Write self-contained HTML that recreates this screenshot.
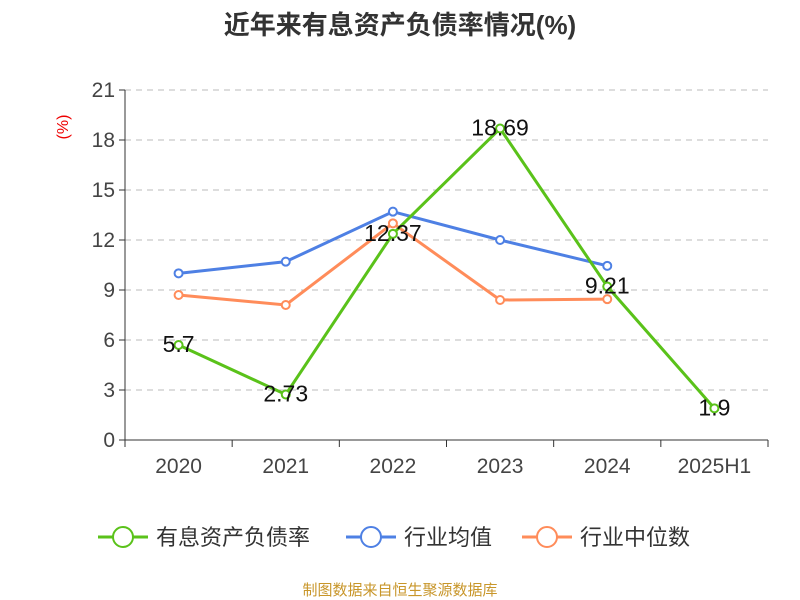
<!DOCTYPE html>
<html><head><meta charset="utf-8"><style>
body{margin:0;background:#fff;}
svg{display:block;font-family:"Liberation Sans","Noto Sans CJK SC",sans-serif;}
</style></head><body>
<svg id="c" width="800" height="600">
<text x="400" y="34" text-anchor="middle" font-size="26" font-weight="bold" fill="#333">近年来有息资产负债率情况(%)</text>
<text x="68" y="127" transform="rotate(-90 68 127)" text-anchor="middle" font-size="16" fill="#e00">(%)</text>
<g id="grid"></g><g id="axes"></g><g id="series"></g>
<g id="legend"></g>
<text x="400" y="595" text-anchor="middle" font-size="15" fill="#c8962a">制图数据来自恒生聚源数据库</text>
</svg>
<script>
const categories=["2020","2021","2022","2023","2024","2025H1"];
const yTicks=[0,3,6,9,12,15,18,21];
const debtRatio=[5.7,2.73,12.37,18.69,9.21,1.9];
const debtLabels=["5.7","2.73","12.37","18.69","9.21","1.9"];
const industryMean=[10.0,10.7,13.7,12.0,10.45];
const industryMedian=[8.7,8.1,13.0,8.4,8.45];
const NS="http://www.w3.org/2000/svg";
const L=125,R=768,T=90,B=440,yMax=21;
const bw=(R-L)/categories.length;
const x=i=>L+bw*(i+0.5);
const y=v=>B-(v/yMax)*(B-T);
function mk(tag,attrs,parent,text){const e=document.createElementNS(NS,tag);for(const k in attrs)e.setAttribute(k,attrs[k]);if(text!==undefined)e.textContent=text;parent.appendChild(e);return e;}
const grid=document.getElementById('grid'),axes=document.getElementById('axes'),ser=document.getElementById('series'),leg=document.getElementById('legend');
yTicks.forEach(t=>{
 if(t>0){const g=mk('line',{x1:L,x2:R,y1:y(t),y2:y(t),stroke:'#bbb','stroke-dasharray':'6,5'},grid);
 
 }
 const tk=mk('line',{x1:L-6,x2:L,y1:y(t),y2:y(t),stroke:'#333'},axes);
 
 
 const tl=mk('text',{x:L-10,y:y(t)+7,'text-anchor':'end','font-size':21,fill:'#444'},axes,String(t));
 
 
});
const ya=mk('line',{x1:L,x2:L,y1:T,y2:B,stroke:'#333'},axes);


const xa=mk('line',{x1:L,x2:R,y1:B,y2:B,stroke:'#333'},axes);


for(let i=0;i<=categories.length;i++){const t=mk('line',{x1:L+bw*i,x2:L+bw*i,y1:B,y2:B+7,stroke:'#333'},axes);
 
 }
categories.forEach((c,i)=>{const t=mk('text',{x:x(i),y:B+33,'text-anchor':'middle','font-size':21,fill:'#444'},axes,c);
 
 });
function line(vals,color,name){
 const p=mk('polyline',{points:vals.map((v,i)=>x(i)+','+y(v)).join(' '),fill:'none',stroke:color,'stroke-width':3},ser);
 
 
 vals.forEach((v,i)=>{const c=mk('circle',{cx:x(i),cy:y(v),r:4,fill:'#fff',stroke:color,'stroke-width':2},ser);
 
 });
}
line(industryMean,'#4e80e4','industry-mean');
line(industryMedian,'#ff8c5a','industry-median');
line(debtRatio,'#5ac21a','debt-ratio');
debtRatio.forEach((v,i)=>{const t=mk('text',{x:x(i),y:y(v)+7,'text-anchor':'middle','font-size':23,fill:'#111'},ser,debtLabels[i]);
 
 });
const items=[["有息资产负债率","#5ac21a",98],["行业均值","#4e80e4",346],["行业中位数","#ff8c5a",522]];
items.forEach(([n,c,lx])=>{
 const g=mk('g',{},leg);
 
 
 mk('line',{x1:lx,x2:lx+50,y1:537,y2:537,stroke:c,'stroke-width':3},g);
 mk('circle',{cx:lx+25,cy:537,r:10,fill:'#fff',stroke:c,'stroke-width':2},g);
 mk('text',{x:lx+58,y:545,'font-size':22,fill:'#333'},g,n);
});
</script>
</body></html>
